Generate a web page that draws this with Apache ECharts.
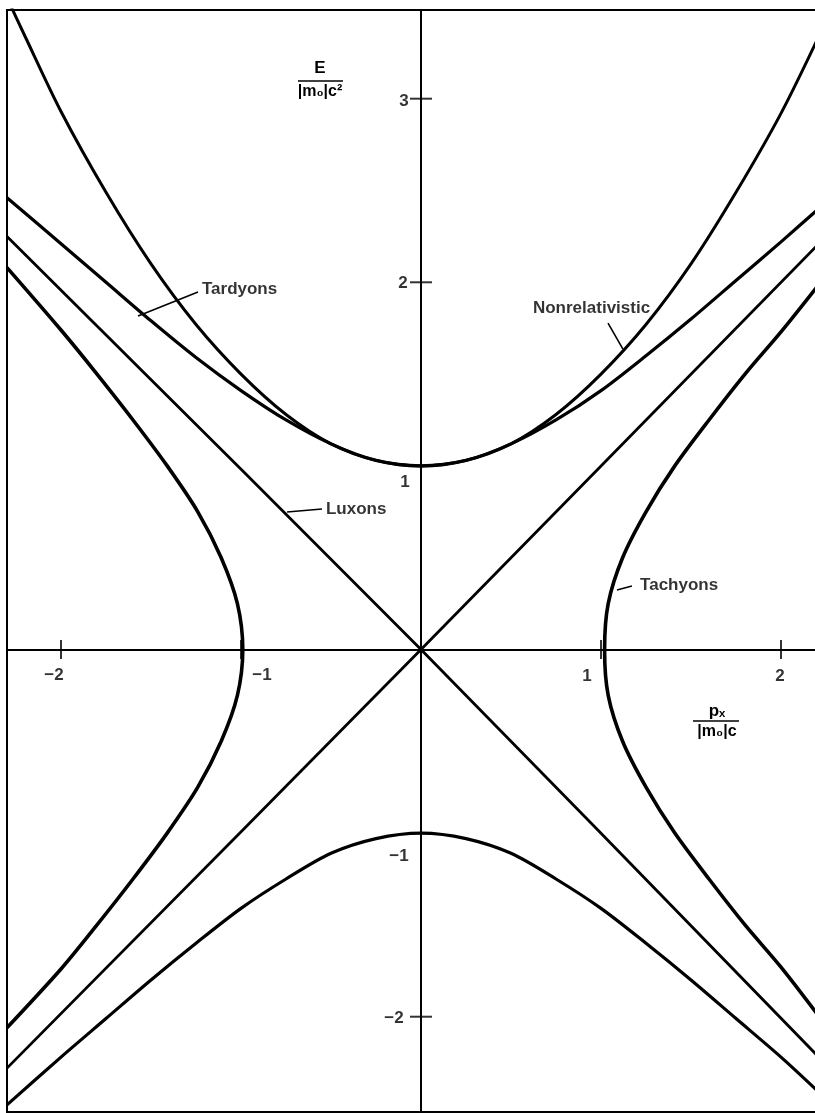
<!DOCTYPE html>
<html>
<head>
<meta charset="utf-8">
<script src="https://cdn.jsdelivr.net/npm/echarts@6/dist/echarts.min.js"></script>
<style>
html, body { margin: 0; padding: 0; background: #fff; overflow: hidden; }
#chart { width: 820px; height: 1113px; }
</style>
</head>
<body>
<div id="chart"></div>
<script>
// curves, [p / |m0|c , E / |m0|c^2]
var tardyonUpper = [[-2.30,2.46],[-2.0,2.21],[-1.75,2.00],[-1.5,1.79],[-1.25,1.59],[-1.0,1.41],[-0.75,1.25],[-0.5,1.12],[-0.25,1.03],[0,1.00],[0.25,1.03],[0.5,1.12],[0.75,1.25],[1.0,1.41],[1.25,1.60],[1.5,1.80],[1.75,2.01],[2.0,2.22],[2.22,2.41]];
var tardyonLower = [[-2.30,-2.48],[-2.0,-2.22],[-1.75,-2.01],[-1.5,-1.80],[-1.25,-1.60],[-1.0,-1.41],[-0.75,-1.25],[-0.5,-1.11],[-0.25,-1.03],[0,-1.00],[0.25,-1.03],[0.5,-1.11],[0.75,-1.25],[1.0,-1.41],[1.25,-1.60],[1.5,-1.80],[1.75,-2.01],[2.0,-2.22],[2.22,-2.42]];
var nonRelativistic = [[-2.30,3.55],[-2.2,3.34],[-2.0,2.93],[-1.75,2.49],[-1.5,2.10],[-1.25,1.77],[-1.0,1.50],[-0.75,1.28],[-0.5,1.12],[-0.25,1.03],[0,1.00],[0.25,1.03],[0.5,1.12],[0.75,1.28],[1.0,1.50],[1.25,1.77],[1.5,2.10],[1.75,2.49],[2.0,2.92],[2.22,3.36]];
var luxonDown = [[-2.30,2.25],[0,0],[2.22,-2.23]];
var luxonUp = [[-2.30,-2.28],[0,0],[2.22,2.22]];
var tachyonRight = [[2.22,2.00],[2.0,1.73],[1.8,1.50],[1.6,1.25],[1.41,1.0],[1.25,0.75],[1.12,0.5],[1.04,0.25],[1.02,0],[1.04,-0.25],[1.12,-0.5],[1.25,-0.75],[1.41,-1.0],[1.6,-1.25],[1.8,-1.5],[2.0,-1.73],[2.22,-2.01]];
var tachyonLeft = [[-2.30,2.08],[-2.0,1.74],[-1.8,1.50],[-1.6,1.25],[-1.41,1.0],[-1.24,0.75],[-1.11,0.5],[-1.02,0.25],[-0.99,0],[-1.02,-0.25],[-1.11,-0.5],[-1.24,-0.75],[-1.41,-1.0],[-1.6,-1.25],[-1.8,-1.5],[-2.0,-1.74],[-2.30,-2.06]];

var xTickValues = [-2, -1, 1, 2];
var xTickLabels = ['\u22122', '\u22121', '1', '2'];
var yTickValues = [3, 2, 1, -1, -2];
var yTickLabels = ['3', '2', '1', '\u22121', '\u22122'];

// curve names and where their text sits
var noteNames = ['Tardyons', 'Nonrelativistic', 'Luxons', 'Tachyons'];
var notePoints = [[-1.217,1.963],[0.622,1.860],[-0.528,0.765],[1.217,0.351]];
var leaderLines = [
    [[-1.239,1.947],[-1.572,1.817]],
    [[1.039,1.778],[1.122,1.636]],
    [[-0.55,0.765],[-0.744,0.749]],
    [[1.172,0.346],[1.089,0.324]]
];

var xLabelOffsets = [[-7,26],[21,26],[-14,27],[-1,27]];
var yLabelOffsets = [[-17,3],[-18,1],[-16,16],[-22,23],[-27,2]];

var FONT = '"Liberation Sans", "DejaVu Sans", Arial, sans-serif';

function curve(name, data, width) {
    return {
        name: name,
        type: 'line',
        data: data,
        smooth: 0.3,
        symbol: 'none',
        silent: true,
        lineStyle: { color: '#000', width: width },
        z: 3
    };
}

function drawChart(id) {
    var myChart = echarts.init(document.getElementById(id));

    var xTicks = [];
    for (var i = 0; i < xTickValues.length; i++) {
        xTicks.push({
            value: [xTickValues[i], 0],
            label: { formatter: xTickLabels[i], offset: xLabelOffsets[i] }
        });
    }
    var yTicks = [];
    for (var j = 0; j < yTickValues.length; j++) {
        yTicks.push({
            value: [0, yTickValues[j]],
            label: { formatter: yTickLabels[j], offset: yLabelOffsets[j] }
        });
    }
    var notes = [];
    for (var k = 0; k < noteNames.length; k++) {
        notes.push({ value: notePoints[k], name: noteNames[k] });
    }

    var tickLabel = {
        show: true,
        position: 'inside',
        align: 'center',
        verticalAlign: 'middle',
        color: '#000',
        fontFamily: FONT,
        fontWeight: 'bold',
        fontSize: 17
    };

    var series = [
        curve('Tardyons', tardyonUpper, 3.2),
        curve('Tardyons lower', tardyonLower, 3.2),
        curve('Nonrelativistic', nonRelativistic, 3),
        curve('Luxons', luxonDown, 2.8),
        curve('Luxons 2', luxonUp, 2.8),
        curve('Tachyons', tachyonRight, 3.6),
        curve('Tachyons left', tachyonLeft, 3.6),
        {
            type: 'scatter',
            data: xTicks,
            symbol: 'rect',
            symbolSize: [2, 19],
            itemStyle: { color: '#000' },
            label: tickLabel,
            silent: true,
            z: 4
        },
        {
            type: 'scatter',
            data: yTicks,
            symbol: 'rect',
            symbolSize: [22, 2],
            itemStyle: { color: '#000' },
            label: tickLabel,
            silent: true,
            z: 4
        },
        {
            type: 'scatter',
            data: notes,
            symbolSize: 0,
            label: {
                show: true,
                position: 'inside',
                align: 'left',
                verticalAlign: 'middle',
                formatter: '{b}',
                color: '#000',
                fontFamily: FONT,
                fontWeight: 'bold',
                fontSize: 17
            },
            silent: true,
            z: 5
        }
    ];
    for (var m = 0; m < leaderLines.length; m++) {
        series.push({
            type: 'line',
            data: leaderLines[m],
            symbol: 'none',
            silent: true,
            lineStyle: { color: '#000', width: 1.6 },
            z: 4
        });
    }

    var option = {
        animation: false,
        backgroundColor: '#fff',
        grid: {
            left: 7,
            right: 0,
            top: 10,
            bottom: 1,
            show: true,
            borderColor: '#000',
            borderWidth: 2,
            containLabel: false
        },
        xAxis: {
            type: 'value',
            min: -2.30,
            max: 2.2167,
            axisLine: { show: true, onZero: true, lineStyle: { color: '#000', width: 2 } },
            axisTick: { show: false },
            axisLabel: { show: false },
            splitLine: { show: false }
        },
        yAxis: {
            type: 'value',
            min: -2.519,
            max: 3.483,
            axisLine: { show: true, onZero: true, lineStyle: { color: '#000', width: 2 } },
            axisTick: { show: false },
            axisLabel: { show: false },
            splitLine: { show: false }
        },
        graphic: [
            { type: 'text', x: 320, y: 68, style: { text: 'E', fill: '#000', font: 'bold 17px ' + FONT, align: 'center', verticalAlign: 'middle' } },
            { type: 'line', shape: { x1: 298, y1: 81, x2: 343, y2: 81 }, style: { stroke: '#000', lineWidth: 1.5 } },
            { type: 'text', x: 320, y: 92, style: { text: '|m\u2080|c\u00b2', fill: '#000', font: 'bold 16px ' + FONT, align: 'center', verticalAlign: 'middle' } },
            { type: 'text', x: 717, y: 711, style: { text: 'p\u2093', fill: '#000', font: 'bold 17px ' + FONT, align: 'center', verticalAlign: 'middle' } },
            { type: 'line', shape: { x1: 693, y1: 721, x2: 739, y2: 721 }, style: { stroke: '#000', lineWidth: 1.5 } },
            { type: 'text', x: 717, y: 732, style: { text: '|m\u2080|c', fill: '#000', font: 'bold 16px ' + FONT, align: 'center', verticalAlign: 'middle' } }
        ],
        series: series
    };

    myChart.setOption(option);
}

drawChart('chart');
</script>
</body>
</html>
